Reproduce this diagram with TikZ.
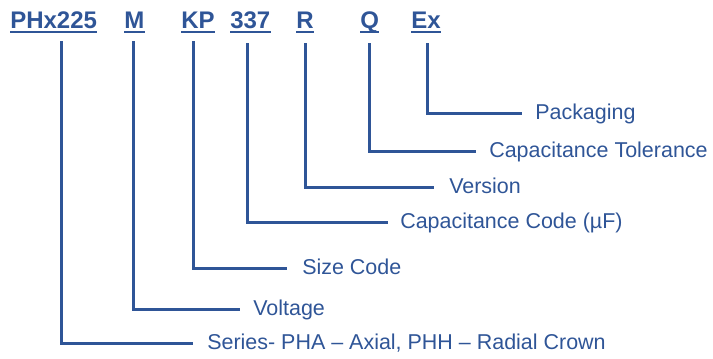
\documentclass[tikz,border=0pt]{standalone}
\usepackage{fontspec}
\setmainfont{Liberation Sans}
\definecolor{pblue}{RGB}{47,85,151}
\tikzset{
  code/.style={anchor=base west,inner sep=0pt,text=pblue,font=\fontsize{18pt}{20pt}\selectfont\bfseries},
  desc/.style={anchor=base west,inner sep=0pt,text=pblue,font=\fontsize{16.1pt}{18pt}\selectfont},
  lead/.style={draw=pblue,line width=2.25pt,line join=miter},
  uline/.style={draw=pblue,line width=1.8pt}
}
\begin{document}
\begin{tikzpicture}[x=0.75pt,y=-0.75pt]
\useasboundingbox (0,0) rectangle (713,358);
% top codes
\node[code] (c1) at (10,28) {PHx225};
\node[code] (c2) at (124,28) {M};
\node[code] (c3) at (181,28) {KP};
\node[code] (c4) at (230,28) {337};
\node[code] (c5) at (296,28) {R};
\node[code] (c6) at (360,28) {Q};
\node[code] (c7) at (411,28) {Ex};
\foreach \n in {c1,c2,c3,c4,c5,c6,c7}{
  \draw[uline] ([yshift=-2.8pt]\n.base west) -- ([yshift=-2.8pt]\n.base east);
}
% vertical starts
\coordinate (t1) at (61,41);
\coordinate (t2) at (133,41);
\coordinate (t3) at (193,41);
\coordinate (t4) at (247,43);
\coordinate (t5) at (305,43);
\coordinate (t6) at (369,43);
\coordinate (t7) at (427,43);
% horizontal ends
\coordinate (e1) at (193,343);
\coordinate (e2) at (240,309);
\coordinate (e3) at (287,268);
\coordinate (e4) at (388,222);
\coordinate (e5) at (434,187);
\coordinate (e6) at (476,151);
\coordinate (e7) at (522,113);
% descriptions
\node[desc] (d1) at (207,349.5) {Series- PHA – Axial, PHH – Radial Crown};
\node[desc] (d2) at (253,315.5) {Voltage};
\node[desc] (d3) at (302,274.5) {Size Code};
\node[desc] (d4) at (400,228.5) {Capacitance Code (µF)};
\node[desc] (d5) at (449,193.5) {Version};
\node[desc] (d6) at (489,157.5) {Capacitance Tolerance};
\node[desc] (d7) at (535,119.5) {Packaging};
% leaders
\foreach \i in {1,...,7}{
  \draw[lead] (t\i) |- (e\i);
}
\end{tikzpicture}
\end{document}
